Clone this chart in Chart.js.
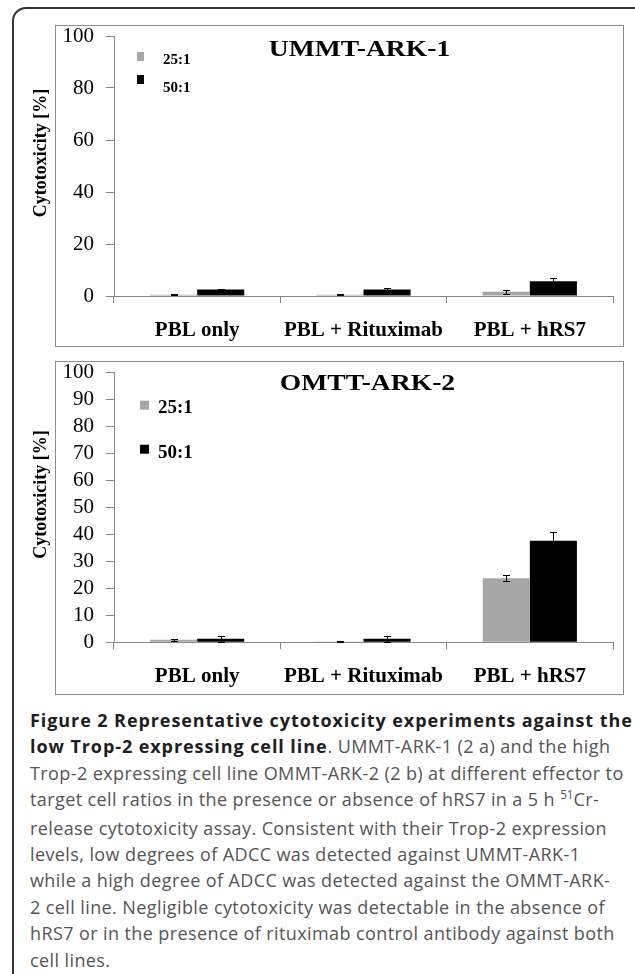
<!DOCTYPE html>
<html>
<head>
<meta charset="utf-8">
<script src="https://cdn.jsdelivr.net/npm/chart.js@4/dist/chart.umd.min.js"></script>
<style>
    html, body { margin: 0; padding: 0; background: #fff; }
    body { width: 635px; height: 974px; position: relative; overflow: hidden; }
    .frame {
        position: absolute; left: 12px; top: 7px; width: 640px; height: 1000px;
        border: 2px solid #333; border-radius: 14px; box-sizing: border-box;
    }
    .panel { position: absolute; left: 20px; width: 604px; }
    .panel canvas { position: absolute; left: 0; top: 0; }
    .panel .edge {
        position: absolute; left: 35px; top: 0; right: 0; bottom: 0;
        border: 1px solid #8c8c8c; pointer-events: none;
    }
    #panelA { top: 25px; height: 322px; }
    #panelB { top: 361px; height: 334px; }
    .caption {
        position: absolute; left: 30px; top: 707px;
        font-family: 'Open Sans', sans-serif; font-size: 18px; line-height: 26.4px;
        color: #555; white-space: nowrap; letter-spacing: 0.4px;
    }
    .caption b { color: #1e1e1e; font-weight: bold; letter-spacing: 0.92px; }
    .caption .sup { font-size: 0.65em; position: relative; top: -0.6em; letter-spacing: 0; }
</style>
</head>
<body>
<div class="frame"></div>

<div class="panel" id="panelA">
    <canvas id="chartA" width="604" height="322"></canvas>
    <div class="edge"></div>
</div>
<div class="panel" id="panelB">
    <canvas id="chartB" width="604" height="334"></canvas>
    <div class="edge"></div>
</div>

<div class="caption"><b>Figure 2 Representative cytotoxicity experiments against the<br>low Trop-2 expressing cell line</b>. UMMT-ARK-1 (2 a) and the high<br>Trop-2 expressing cell line OMMT-ARK-2 (2 b) at different effector to<br>target cell ratios in the presence or absence of hRS7 in a 5 h <span class="sup">51</span>Cr-<br>release cytotoxicity assay. Consistent with their Trop-2 expression<br>levels, low degrees of ADCC was detected against UMMT-ARK-1<br>while a high degree of ADCC was detected against the OMMT-ARK-<br>2 cell line. Negligible cytotoxicity was detectable in the absence of<br>hRS7 or in the presence of rituximab control antibody against both<br>cell lines.</div>

<script>
const categories = ['PBL only', 'PBL + Rituximab', 'PBL + hRS7'];
const seriesLabels = ['25:1', '50:1'];

// UMMT-ARK-1 (2 a)
const ummt25 = [0.5, 0.5, 1.6];
const ummt25Err = [0.3, 0.3, 0.7];
const ummt50 = [2.5, 2.5, 5.7];
const ummt50Err = [0.2, 0.4, 1.1];
const ummtTicks = [0, 20, 40, 60, 80, 100];

// OMTT-ARK-2 (2 b)
const omtt25 = [0.9, 0.3, 23.8];
const omtt25Err = [0.3, 0.2, 1.1];
const omtt50 = [1.3, 1.3, 37.7];
const omtt50Err = [1.1, 1.1, 3.1];
const omttTicks = [0, 10, 20, 30, 40, 50, 60, 70, 80, 90, 100];

const GREY = '#a6a6a6';
const AXIS = '#868686';
const SERIF = "'Liberation Serif', 'Times New Roman', serif";

// error bars, in-plot title, legend and y title
const overlayPlugin = {
    id: 'overlay',
    afterDatasetsDraw(chart, args, opts) {
        const ctx = chart.ctx;
        const y = chart.scales.y;
        const area = chart.chartArea;

        ctx.save();
        ctx.strokeStyle = '#000';
        ctx.lineWidth = 1;
        chart.data.datasets.forEach((ds, i) => {
            const meta = chart.getDatasetMeta(i);
            meta.data.forEach((bar, j) => {
                const v = ds.data[j];
                const e = opts.errors[i][j];
                const x = Math.round(bar.x) + 0.5;
                const top = Math.round(y.getPixelForValue(v + e)) + 0.5;
                const bot = Math.round(y.getPixelForValue(Math.max(v - e, 0))) + 0.5;
                ctx.beginPath();
                ctx.moveTo(x, top); ctx.lineTo(x, bot);
                ctx.moveTo(x - 3.5, top); ctx.lineTo(x + 3.5, top);
                ctx.moveTo(x - 3.5, bot); ctx.lineTo(x + 3.5, bot);
                ctx.stroke();
            });
        });
        ctx.restore();

        // chart title, a little wider than the plain font
        ctx.save();
        ctx.fillStyle = '#000';
        ctx.textAlign = 'center';
        ctx.textBaseline = 'middle';
        ctx.font = 'bold ' + opts.titleSize + 'px ' + SERIF;
        ctx.translate((area.left + area.right) / 2 + opts.titleX, area.top + opts.titleY);
        ctx.scale(1.2, 1);
        ctx.fillText(opts.title, 0, 0);
        ctx.restore();

        // legend
        ctx.save();
        ctx.textBaseline = 'middle';
        const lg = opts.legend;
        chart.data.datasets.forEach((ds, i) => {
            ctx.fillStyle = ds.backgroundColor;
            ctx.fillRect(lg.x, area.top + lg.boxY[i], lg.boxW, lg.boxH);
            ctx.fillStyle = '#000';
            ctx.textAlign = 'left';
            ctx.font = 'bold ' + lg.size + 'px ' + SERIF;
            ctx.fillText(ds.label, lg.textX, area.top + lg.textY[i]);
        });

        // y axis title
        ctx.translate(21, (area.top + area.bottom) / 2 - 13);
        ctx.rotate(-Math.PI / 2);
        ctx.textAlign = 'center';
        ctx.font = 'bold 18px ' + SERIF;
        ctx.fillText('Cytotoxicity [%]', 0, 0);
        ctx.restore();
    }
};

function makeChart(canvasId, s25, s50, e25, e50, ticks, plotBottom, extra) {
    const canvas = document.getElementById(canvasId);
    const bottomGap = canvas.height - plotBottom;
    return new Chart(canvas, {
        type: 'bar',
        data: {
            labels: categories,
            datasets: [
                { label: seriesLabels[0], data: s25, backgroundColor: GREY, borderWidth: 0 },
                { label: seriesLabels[1], data: s50, backgroundColor: '#000', borderWidth: 0 }
            ]
        },
        options: {
            responsive: false,
            animation: false,
            layout: { padding: { top: extra.padTop, right: 11, left: 0, bottom: 0 } },
            datasets: { bar: { categoryPercentage: 0.566, barPercentage: 1.0 } },
            scales: {
                x: {
                    afterFit(scale) {
                        scale.height = bottomGap;
                        scale.paddingLeft = 0;
                        scale.paddingRight = 0;
                    },
                    grid: { offset: true, drawOnChartArea: false, tickLength: 7, color: AXIS },
                    border: { color: AXIS },
                    ticks: {
                        color: '#000', padding: 15,
                        font: { family: SERIF, size: 21, weight: 'bold' }
                    }
                },
                y: {
                    min: 0, max: 100,
                    afterFit(scale) {
                        scale.width = 94;
                        scale.paddingTop = 0;
                        scale.paddingBottom = 0;
                    },
                    afterBuildTicks(scale) { scale.ticks = ticks.map(v => ({ value: v })); },
                    grid: { drawOnChartArea: false, tickLength: 8, color: AXIS },
                    border: { color: AXIS },
                    ticks: {
                        autoSkip: false, color: '#000', padding: 12,
                        font: { family: SERIF, size: 21 }
                    }
                }
            },
            plugins: {
                legend: { display: false },
                tooltip: { enabled: false },
                overlay: {
                    errors: [e25, e50],
                    title: extra.title,
                    titleSize: extra.titleSize,
                    titleX: extra.titleX,
                    titleY: extra.titleY,
                    legend: extra.legend
                }
            }
        },
        plugins: [overlayPlugin]
    });
}

makeChart('chartA', ummt25, ummt50, ummt25Err, ummt50Err, ummtTicks, 271, {
    padTop: 11,
    title: 'UMMT-ARK-1', titleSize: 23, titleX: -4, titleY: 14,
    legend: { x: 117, boxW: 7, boxH: 9, boxY: [16, 39], textX: 143, textY: [24, 52], size: 15 }
});

makeChart('chartB', omtt25, omtt50, omtt25Err, omtt50Err, omttTicks, 281.3, {
    padTop: 11.7,
    title: 'OMTT-ARK-2', titleSize: 23, titleX: 4, titleY: 11,
    legend: { x: 120, boxW: 9, boxH: 9, boxY: [28, 72], textX: 138, textY: [35, 80], size: 19 }
});
</script>
</body>
</html>
